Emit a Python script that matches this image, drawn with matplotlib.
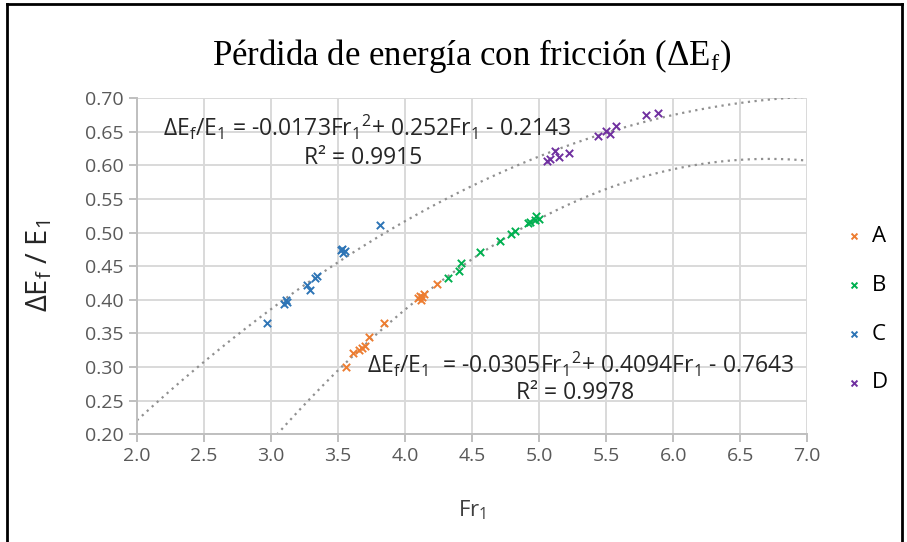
import numpy as np
import matplotlib.pyplot as plt
from matplotlib.lines import Line2D

# series
a_x = [3.56, 3.61, 3.66, 3.68, 3.70, 3.73, 3.84, 4.10, 4.11, 4.12, 4.13, 4.14, 4.24]
a_y = [0.300, 0.321, 0.325, 0.328, 0.331, 0.345, 0.365, 0.402, 0.406, 0.400, 0.404, 0.408, 0.424]

b_x = [4.32, 4.40, 4.42, 4.56, 4.71, 4.79, 4.82, 4.92, 4.93, 4.97, 4.98, 5.00]
b_y = [0.433, 0.443, 0.455, 0.471, 0.487, 0.498, 0.502, 0.514, 0.516, 0.519, 0.525, 0.520]

c_x = [2.97, 3.10, 3.11, 3.12, 3.27, 3.29, 3.33, 3.34, 3.52, 3.53, 3.54, 3.55, 3.81]
c_y = [0.365, 0.393, 0.399, 0.396, 0.422, 0.415, 0.432, 0.436, 0.474, 0.476, 0.469, 0.472, 0.511]

d_x = [5.06, 5.08, 5.12, 5.15, 5.22, 5.44, 5.50, 5.53, 5.57, 5.80, 5.89]
d_y = [0.606, 0.610, 0.622, 0.613, 0.619, 0.644, 0.651, 0.646, 0.659, 0.675, 0.678]

# displayed trendline coefficients
fit_top = [-0.0173, 0.252, -0.2143]
fit_bot = [-0.0305, 0.4094, -0.7643]

plt.rcParams['font.family'] = ['Open Sans', 'DejaVu Sans']
plt.rcParams['mathtext.default'] = 'regular'

fig = plt.figure(figsize=(9.07, 5.42), dpi=100)
ax = fig.add_axes([0.151, 0.199, 0.739, 0.620])

xs = np.linspace(2.0, 7.0, 300)
ax.plot(xs, np.polyval(fit_top, xs), ls=(0, (1, 2)), color='#909090', lw=1.6, zorder=2)
ax.plot(xs, np.polyval(fit_bot, xs), ls=(0, (1, 2)), color='#909090', lw=1.6, zorder=2)

mk = dict(marker='x', s=28, linewidths=1.4, zorder=3)
ax.scatter(a_x, a_y, color='#ED7D31', label='A', **mk)
ax.scatter(b_x, b_y, color='#00B050', label='B', **mk)
ax.scatter(c_x, c_y, color='#2E75B6', label='C', **mk)
ax.scatter(d_x, d_y, color='#7030A0', label='D', **mk)

ax.set_xlim(2.0, 7.0)
ax.set_ylim(0.20, 0.70)
ax.set_xticks(np.arange(2.0, 7.01, 0.5))
ax.set_yticks(np.arange(0.20, 0.701, 0.05))
ax.xaxis.set_major_formatter(plt.FormatStrFormatter('%.1f'))
ax.yaxis.set_major_formatter(plt.FormatStrFormatter('%.2f'))
ax.grid(True, color='#D9D9D9', lw=1.4)
ax.set_axisbelow(True)
for s in ['top', 'right']:
    ax.spines[s].set_visible(False)
for s in ['left', 'bottom']:
    ax.spines[s].set_color('#BFBFBF')
    ax.spines[s].set_linewidth(1.4)
ax.tick_params(colors='#BFBFBF', labelcolor='#595959', labelsize=14, length=6, width=1.4)

ax.set_xlabel('Fr$_1$', fontsize=16, color='#404040', labelpad=24)
ax.set_ylabel(r'$\Delta$E$_f$ / E$_1$', fontsize=21, color='#262626', labelpad=22)
ax.set_title(r'Pérdida de energía con fricción ($\Delta$E$_f$)',
             fontsize=25, family='Liberation Serif', pad=24)

ax.text(3.72, 0.657, r'$\Delta$E$_f$/E$_1$ = -0.0173Fr$_1$$^2$+ 0.252Fr$_1$ - 0.2143',
        fontsize=16.5, color='#262626', ha='center', va='center')
ax.text(3.69, 0.611, 'R² = 0.9915', fontsize=16.5, color='#262626', ha='center', va='center')
ax.text(5.31, 0.303, r'$\Delta$E$_f$/E$_1$  = -0.0305Fr$_1$$^2$+ 0.4094Fr$_1$ - 0.7643',
        fontsize=16.5, color='#262626', ha='center', va='center')
ax.text(5.27, 0.261, 'R² = 0.9978', fontsize=16.5, color='#262626', ha='center', va='center')

ax.legend(loc='center left', bbox_to_anchor=(1.02, 0.37), frameon=False, fontsize=16,
          labelspacing=1.25, handletextpad=0.2, handlelength=1.2, markerscale=0.8)

fig.add_artist(Line2D([0.008, 0.008], [0, 0.992], color='black', lw=2))
fig.add_artist(Line2D([0.008, 0.995], [0.992, 0.992], color='black', lw=2))
fig.add_artist(Line2D([0.995, 0.995], [0, 0.992], color='black', lw=2))

fig.savefig('out.png', dpi=100)
